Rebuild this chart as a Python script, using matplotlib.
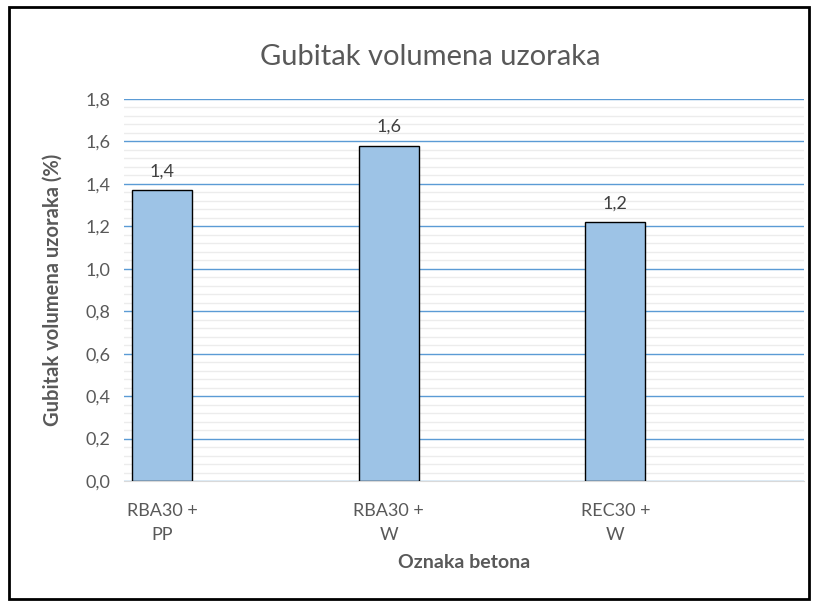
import numpy as np
import matplotlib.pyplot as plt
from matplotlib.patches import Rectangle
from matplotlib.ticker import MultipleLocator, FuncFormatter

categories = ['RBA30 +\nPP', 'RBA30 +\nW', 'REC30 +\nW']
values = [1.37, 1.58, 1.22]
value_labels = ['1,4', '1,6', '1,2']

plt.rcParams['font.family'] = ['Lato', 'DejaVu Sans']
gray = '#595959'

fig = plt.figure(figsize=(8.17, 6.07), dpi=100)
ax = fig.add_axes([124/817, 1-481/607, (804-124)/817, (481-99)/607])

x = np.arange(len(categories))
bars = ax.bar(x, values, width=0.265, color='#9dc3e6', edgecolor='black', linewidth=1, zorder=3)
for b, lab in zip(bars, value_labels):
    ax.text(b.get_x() + b.get_width()/2, b.get_height() + 0.05, lab,
            ha='center', va='bottom', fontsize=13, color='#404040')

ax.set_ylim(0, 1.8)
ax.set_xlim(-0.168, 2.832)
ax.yaxis.set_major_locator(MultipleLocator(0.2))
ax.yaxis.set_minor_locator(MultipleLocator(0.04))
ax.yaxis.set_major_formatter(FuncFormatter(lambda v, p: f'{v:.1f}'.replace('.', ',')))
ax.grid(axis='y', which='major', color='#5b9bd5', linewidth=1, zorder=0)
ax.grid(axis='y', which='minor', color='#ececec', linewidth=1, zorder=0)
ax.set_xticks(x)
ax.set_xticklabels(categories, fontsize=13, color=gray, linespacing=1.6)
ax.tick_params(axis='y', labelsize=13, labelcolor=gray, length=0, pad=10)
ax.tick_params(axis='x', length=0, pad=16)
ax.tick_params(axis='y', which='minor', length=0)
for s in ['top', 'right', 'left']:
    ax.spines[s].set_visible(False)
ax.spines['bottom'].set_color('#d9d9d9')

ax.set_ylabel('Gubitak volumena uzoraka (%)', fontsize=14.5, fontweight='bold', color=gray, labelpad=16)
ax.set_xlabel('Oznaka betona', fontsize=14, fontweight='bold', color=gray, labelpad=8)
fig.text(430/817, 1-57/607, 'Gubitak volumena uzoraka', ha='center', va='center',
         fontsize=21, color=gray)

fig.patches.append(Rectangle((9/817, 8/607), 800/817, 592/607, transform=fig.transFigure,
                             fill=False, edgecolor='black', linewidth=2))

fig.savefig('out.png', dpi=100)
